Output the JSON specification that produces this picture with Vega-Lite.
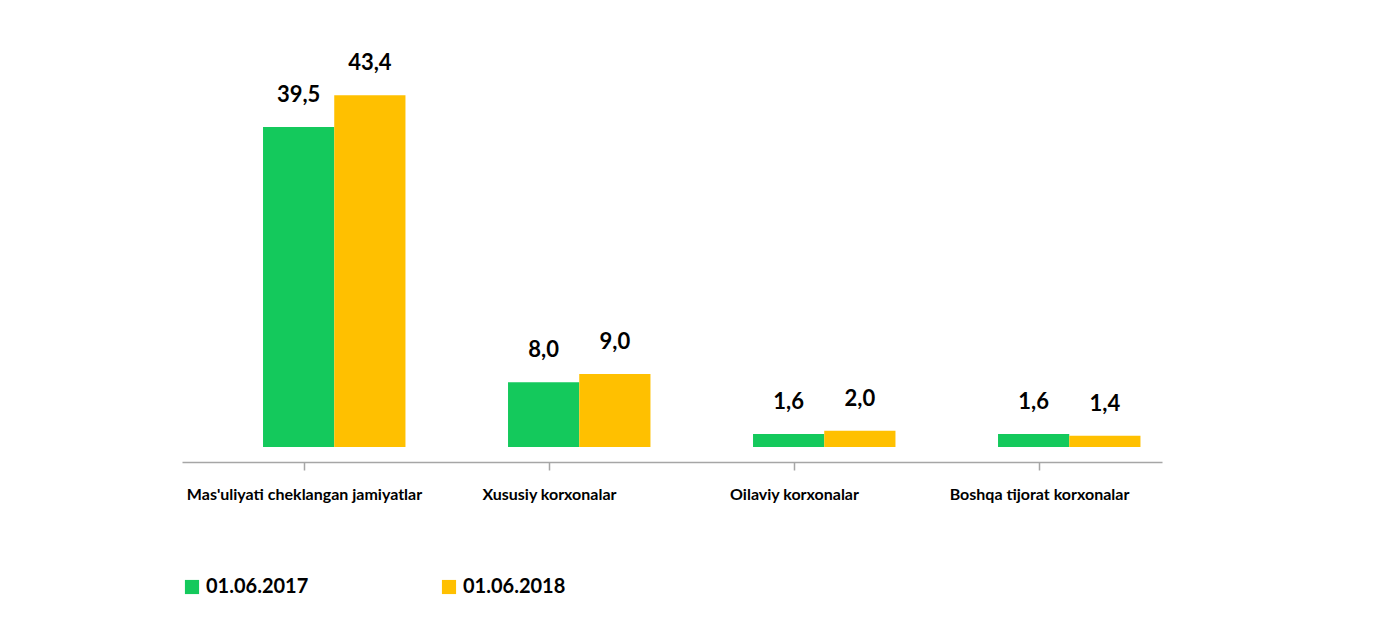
{
  "$schema": "https://vega.github.io/schema/vega-lite/v6.json",
  "width": 980,
  "height": 404,
  "padding": {"left": 182, "top": 52, "right": 5, "bottom": 5},
  "background": "white",
  "config": {
    "view": {"stroke": null},
    "font": "Lato"
  },
  "data": {
    "values": [
      {"category": "Mas'uliyati cheklangan jamiyatlar", "series": "01.06.2017", "value": 39.5, "label": "39,5"},
      {"category": "Mas'uliyati cheklangan jamiyatlar", "series": "01.06.2018", "value": 43.4, "label": "43,4"},
      {"category": "Xususiy korxonalar", "series": "01.06.2017", "value": 8.0, "label": "8,0"},
      {"category": "Xususiy korxonalar", "series": "01.06.2018", "value": 9.0, "label": "9,0"},
      {"category": "Oilaviy korxonalar", "series": "01.06.2017", "value": 1.6, "label": "1,6"},
      {"category": "Oilaviy korxonalar", "series": "01.06.2018", "value": 2.0, "label": "2,0"},
      {"category": "Boshqa tijorat korxonalar", "series": "01.06.2017", "value": 1.6, "label": "1,6"},
      {"category": "Boshqa tijorat korxonalar", "series": "01.06.2018", "value": 1.4, "label": "1,4"}
    ]
  },
  "encoding": {
    "x": {
      "field": "category",
      "type": "nominal",
      "sort": null,
      "scale": {"paddingInner": 0, "paddingOuter": 0},
      "axis": {
        "title": null,
        "domainColor": "#a6a6a6",
        "domainWidth": 1.5,
        "tickColor": "#a6a6a6",
        "tickWidth": 1.5,
        "tickSize": 8,
        "labelAngle": 0,
        "labelFontSize": 16,
        "labelFontWeight": "bold",
        "labelColor": "#000000",
        "labelPadding": 16,
        "labelLimit": 300,
        "labelOverlap": false
      }
    },
    "xOffset": {
      "field": "series",
      "type": "nominal",
      "scale": {"paddingInner": 0, "paddingOuter": 0.72, "align": 0.79}
    },
    "y": {"field": "value", "type": "quantitative", "scale": {"domain": [-1.85, 48], "nice": false}, "axis": null}
  },
  "layer": [
    {
      "mark": {"type": "bar"},
      "encoding": {
        "color": {
          "field": "series",
          "type": "nominal",
          "scale": {"domain": ["01.06.2017", "01.06.2018"], "range": ["#14c95c", "#ffc000"]},
          "legend": {
            "title": null,
            "orient": "bottom",
            "direction": "horizontal",
            "offset": 75,
            "symbolType": "square",
            "symbolSize": 200,
            "labelFontSize": 20,
            "labelFontWeight": "bold",
            "labelColor": "#000000",
            "columnPadding": 130
          }
        }
      }
    },
    {
      "mark": {"type": "text", "fontSize": 22, "fontWeight": "bold", "color": "#000000", "baseline": "middle", "dy": -32},
      "encoding": {
        "text": {"field": "label", "type": "nominal"}
      }
    }
  ]
}
